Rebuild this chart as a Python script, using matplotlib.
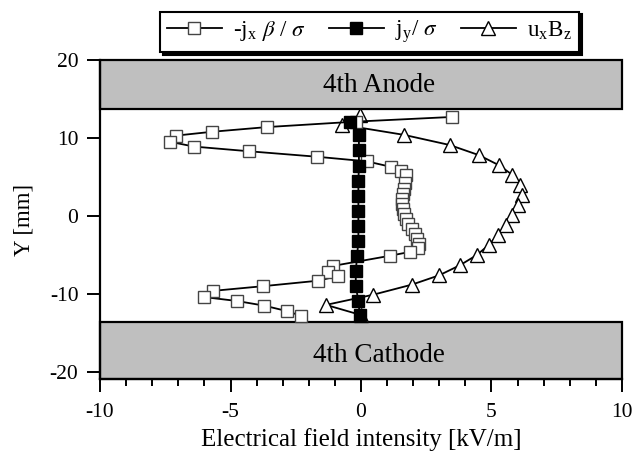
import matplotlib
matplotlib.use('Agg')
import matplotlib.pyplot as plt
from matplotlib.patches import Rectangle
from matplotlib.ticker import MultipleLocator

plt.rcParams['font.family'] = ['Liberation Serif', 'DejaVu Serif']
plt.rcParams['mathtext.fontset'] = 'stix'

# -jx beta / sigma profile (open squares)
jx_x = [3.5, -0.2, -3.6, -5.7, -7.1, -7.3, -6.4, -4.3, -1.7, 0.23, 1.15, 1.53,
        1.72, 1.69, 1.65, 1.60, 1.56, 1.56, 1.60, 1.65, 1.72, 1.81, 1.94, 2.07,
        2.16, 2.24, 2.20, 1.88, 1.11, -1.07, -1.26, -0.88, -1.65, -3.75, -5.67,
        -6.0, -4.75, -3.7, -2.83, -2.3]
jx_y = [12.7, 12.1, 11.4, 10.8, 10.3, 9.5, 8.9, 8.3, 7.6, 7.0, 6.3, 5.8,
        5.26, 4.19, 3.42, 2.78, 2.14, 1.50, 0.85, 0.21, -0.43, -1.07, -1.71, -2.35,
        -2.99, -3.63, -4.1, -4.6, -5.1, -6.4, -7.2, -7.7, -8.3, -9.0, -9.6,
        -10.4, -10.9, -11.5, -12.2, -12.8]

# jy / sigma profile (filled squares)
jy_x = [-0.42, -0.08, -0.08, -0.08, -0.1, -0.1, -0.1, -0.1, -0.1, -0.15,
        -0.2, -0.2, -0.1, -0.05]
jy_y = [12.0, 10.4, 8.4, 6.4, 4.5, 2.6, 0.6, -1.3, -3.2, -5.1,
        -7.1, -9.0, -10.9, -12.7]

# ux Bz profile (open triangles)
ub_x = [-0.04, -0.73, 1.65, 3.4, 4.52, 5.29, 5.79, 6.1, 6.17, 6.02, 5.78, 5.55,
        5.25, 4.9, 4.44, 3.8, 3.0, 1.95, 0.46, -1.34, 0.0]
ub_y = [12.9, 11.7, 10.4, 9.1, 7.8, 6.5, 5.3, 4.0, 2.7, 1.4, 0.1, -1.15,
        -2.4, -3.7, -5.0, -6.3, -7.6, -8.8, -10.1, -11.4, -12.7]

anode = (13.7, 20.0)
cathode = (-20.9, -13.6)

fig = plt.figure(figsize=(6.35, 4.58), dpi=100)
ax = fig.add_axes([0.1575, 0.1725, 0.822, 0.6965])

for lo, hi, name, ty in [(anode[0], anode[1], '4th Anode', 16.7),
                         (cathode[0], cathode[1], '4th Cathode', -17.9)]:
    ax.add_patch(Rectangle((-10, lo), 20, hi - lo, facecolor='#bfbfbf',
                           edgecolor='black', lw=1.6, zorder=1, clip_on=False))
    ax.text(0.7, ty, name, ha='center', va='center', fontsize=19.5, zorder=2)

ms = 8.5
l1, = ax.plot(jx_x, jx_y, '-s', color='black', lw=1.3, mfc='white', mec='#444444',
              mew=1.0, ms=ms, zorder=4, label=r'-j$_\mathregular{x}$ $\beta$ / $\sigma$')
l2, = ax.plot(jy_x, jy_y, '-s', color='black', lw=1.3, mfc='black', mec='black',
              ms=ms, zorder=5, label=r'j$_\mathregular{y}$/ $\sigma$')
l3, = ax.plot(ub_x, ub_y, '-^', color='black', lw=1.3, mfc='white', mec='black',
              mew=1.0, ms=ms + 1.5, zorder=3, label=r'u$_\mathregular{x}$B$_\mathregular{z}$')

ax.set_xlim(-10, 10)
ax.set_ylim(-20.9, 20)
ax.set_yticks([-20, -10, 0, 10, 20])
ax.set_xticks([-10, -5, 0, 5, 10])
ax.set_xticklabels(['-10', '-5', '0', '5', '10'])
ax.set_yticklabels(['-20', '-10', '0', '10', '20'])
ax.xaxis.set_minor_locator(MultipleLocator(1))
ax.tick_params(axis='both', which='major', direction='out', length=9.5, width=1.4,
               labelsize=15.5, pad=6)
ax.tick_params(axis='x', which='major', pad=8)
ax.tick_params(axis='x', which='minor', direction='out', length=5, width=1.4)
ax.spines['top'].set_visible(False)
ax.spines['right'].set_visible(False)
ax.spines['left'].set_linewidth(1.6)
ax.spines['bottom'].set_linewidth(1.6)

ax.set_xlabel('Electrical field intensity [kV/m]', fontsize=18, labelpad=4)
ax.set_ylabel('Y [mm]', fontsize=16.5, labelpad=11)

leg = fig.legend(handles=[l1, l2, l3], loc='center', ncol=3,
                 bbox_to_anchor=(0.582, 0.9305), fontsize=16.5, frameon=True,
                 fancybox=False, edgecolor='black', handlelength=2.4,
                 handletextpad=0.5, columnspacing=1.0, borderpad=0.3,
                 shadow={'color': 'black', 'alpha': 1})
leg.get_frame().set_linewidth(1.5)

fig.savefig('out.png', dpi=100)
